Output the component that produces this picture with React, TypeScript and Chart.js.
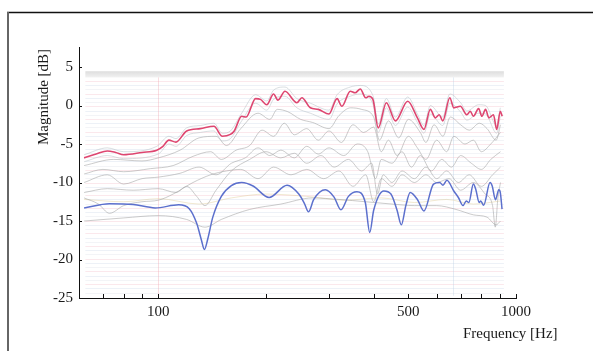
import React, { useEffect, useRef } from "react";
import { Chart, registerables } from "chart.js";

Chart.register(...registerables);

// ---------- axis definitions ----------
const xTickValues = [60, 70, 80, 90, 100, 200, 300, 400, 500, 600, 700, 800, 900, 1000];
const xTickLabels = ["100", "500", "1000"];
const yTickValues = [-25, -20, -15, -10, -5, 0, 5];

// ---------- series: [frequency Hz, magnitude dB] ----------
const redCurve: [number, number][] = [
  [62, -6.8], [67, -6.3], [72, -5.9], [76, -6.1], [80, -6.4], [90, -6.1], [99, -5.8], [103, -5.3],
  [107, -4.5], [112, -4.75], [120, -3.3], [131, -3.0], [143, -2.7], [151, -4.0], [159, -3.75],
  [163, -3.3], [171, -1.4], [176, -1.5], [187, 0.9], [193, 0.8], [201, 0.1], [210, 1.5], [216, 0.7],
  [226, 1.85], [244, 0.35], [252, 1.0], [266, -0.3], [280, -0.5], [300, -1.1], [316, 0.9],
  [326, -0.1], [344, 1.85], [355, 1.65], [367, 2.15], [380, 1.0], [388, 1.2], [398, 0.8],
  [412, -2.9], [434, 0.35], [460, -2.0], [498, 0.55], [530, -1.6], [553, -3.1], [576, -0.5],
  [595, -1.6], [610, -1.2], [624, -2.0], [653, 1.0], [670, -0.3], [699, -0.1], [729, -1.2],
  [745, -0.75], [760, -1.4], [786, -0.4], [803, -1.4], [822, -0.5], [840, -1.6], [865, -1.2],
  [883, -3.1], [904, -0.75], [915, -1.4],
];

const blueCurve: [number, number][] = [
  [62, -13.3], [73, -12.75], [85, -12.85], [98, -13.3], [114, -12.9], [122, -13.4], [128, -15.3],
  [132, -17.5], [134.5, -18.7], [137.5, -17.3], [142, -14.5], [150, -11.8], [160, -10.4],
  [171, -10.0], [184, -10.45], [204, -11.95], [229, -10.35], [247, -11.5], [256, -12.7],
  [263, -13.8], [272, -12.2], [293, -10.95], [310, -11.9], [324, -13.55], [340, -11.8],
  [359, -11.2], [379, -12.6], [390, -16.5], [400, -13.6], [427, -11.1], [447, -11.5],
  [465, -13.6], [478, -15.5], [492, -13.0], [506, -11.3], [530, -12.2], [553, -13.7],
  [588, -10.2], [612, -10.0], [625, -10.35], [641, -9.7], [670, -11.1], [690, -11.95],
  [711, -13.0], [726, -12.4], [738, -12.6], [760, -10.2], [772, -10.9], [789, -12.6],
  [797, -12.4], [812, -12.95], [846, -10.0], [858, -10.45], [876, -12.25], [895, -10.95],
  [904, -11.3], [914, -13.45],
];

const haloUpper: [number, number][] = [
  [62, -6.4], [72, -5.5], [80, -6.0], [99, -5.3], [107, -4.0], [112, -4.3], [120, -2.9],
  [131, -2.6], [143, -2.3], [151, -3.6], [159, -3.3], [171, -1.0], [187, 1.4], [201, 0.6],
  [210, 2.0], [226, 2.4], [244, 0.9], [266, 0.3], [300, -0.6], [316, 1.4], [344, 2.4],
  [367, 2.6], [398, 1.3], [412, -2.4], [434, 0.9], [460, -1.5], [498, 1.1], [530, -1.1],
  [553, -2.6], [576, 0.0], [624, -1.5], [653, 1.5], [699, 0.4], [729, -0.7], [786, 0.1],
  [822, 0.0], [883, -2.6], [904, -0.3],
];

const haloLower: [number, number][] = [
  [62, -7.3], [72, -6.5], [80, -6.9], [100, -6.3], [107, -5.0], [112, -5.3], [120, -3.9],
  [131, -3.5], [143, -3.3], [151, -4.6], [159, -4.3], [171, -2.0], [187, 0.3], [201, -0.6],
  [210, 0.8], [226, 1.2], [244, -0.3], [266, -1.0], [300, -1.8], [316, 0.2], [344, 1.2],
  [367, 1.5], [398, 0.2], [412, -3.5], [434, -0.3], [460, -2.6], [498, -0.2], [530, -2.2],
  [553, -3.6], [576, -1.1], [624, -2.6], [653, 0.3], [699, -0.8], [729, -1.9], [786, -1.0],
  [822, -1.1], [883, -3.6], [904, -1.4],
];

const grayA: [number, number][] = [
  [62, -7.8], [75, -7.0], [90, -7.2], [100, -6.8], [115, -5.8], [130, -4.2], [145, -4.0],
  [155, -5.2], [170, -3.0], [190, -1.0], [205, -1.8], [215, -0.5], [230, -0.8], [250, -1.8],
  [270, -2.2], [300, -3.0], [320, -1.3], [345, -0.3], [370, -0.5], [400, -1.5], [415, -4.5],
  [440, -2.0], [470, -4.2], [500, -1.8], [540, -3.5], [560, -4.8], [590, -2.5], [625, -4.0],
  [655, -1.5], [700, -2.5], [740, -3.2], [790, -2.3], [830, -3.0], [880, -4.5], [905, -2.5],
];

const grayB: [number, number][] = [
  [62, -8.9], [70, -8.3], [80, -8.6], [95, -8.2], [110, -7.8], [125, -6.6], [140, -6.0],
  [150, -7.0], [165, -5.8], [180, -5.2], [195, -3.2], [210, -4.0], [225, -2.3], [240, -3.8],
  [260, -3.0], [280, -4.5], [300, -3.3], [325, -4.8], [350, -2.5], [375, -3.5], [400, -2.8],
  [420, -6.0], [440, -4.5], [465, -6.5], [500, -4.0], [530, -5.5], [560, -7.0], [600, -4.5],
  [640, -6.0], [670, -4.0], [720, -5.0], [760, -4.5], [800, -6.0], [850, -5.0], [905, -3.5],
];

const grayC: [number, number][] = [
  [62, -10.0], [72, -9.0], [80, -10.2], [90, -9.5], [100, -9.3], [115, -8.8], [130, -8.0],
  [145, -9.0], [160, -7.5], [175, -6.8], [190, -5.5], [205, -6.5], [220, -5.8], [240, -6.8],
  [260, -5.3], [280, -6.3], [300, -5.5], [330, -6.5], [360, -5.0], [385, -6.0], [405, -9.5],
  [420, -7.0], [450, -7.5], [480, -6.0], [510, -8.0], [540, -6.5], [580, -8.5], [620, -7.0],
  [660, -8.0], [700, -6.5], [750, -7.5], [800, -8.3], [850, -7.0], [905, -6.0],
];

const grayD: [number, number][] = [
  [62, -11.3], [72, -10.8], [85, -11.0], [100, -10.8], [112, -11.3], [120, -10.5], [128, -11.8],
  [135, -13.0], [145, -11.0], [160, -8.5], [180, -7.0], [200, -6.0], [220, -6.8], [240, -6.2],
  [260, -7.5], [285, -6.5], [310, -8.0], [340, -7.0], [370, -8.5], [395, -7.5], [410, -11.5],
  [425, -9.0], [450, -10.0], [480, -8.5], [520, -9.5], [560, -8.0], [600, -9.5], [640, -8.5],
  [690, -10.0], [740, -9.0], [800, -10.5], [860, -9.0], [905, -8.0],
];

const grayE: [number, number][] = [
  [62, -12.0], [68, -12.8], [73, -14.0], [80, -13.0], [90, -12.5], [100, -12.3], [110, -11.5],
  [125, -10.0], [140, -9.0], [155, -8.5], [170, -8.3], [190, -9.5], [210, -8.0], [235, -9.0],
  [260, -8.3], [290, -9.5], [320, -8.5], [350, -10.5], [380, -9.0], [400, -12.5], [420, -9.5],
  [450, -10.5], [480, -9.0], [520, -10.0], [560, -9.0], [600, -10.0], [650, -9.5], [700, -11.0],
  [760, -10.0], [820, -11.5], [860, -13.0], [875, -15.8], [890, -12.0], [905, -10.0],
];

const grayF: [number, number][] = [
  [62, -15.0], [80, -14.6], [100, -14.3], [120, -14.8], [135, -15.8], [150, -14.8], [180, -13.5],
  [220, -12.8], [270, -12.0], [320, -12.2], [380, -12.5], [450, -12.8], [520, -13.0],
  [600, -13.0], [680, -13.5], [760, -14.2], [830, -14.5], [880, -15.5], [905, -15.0],
];

const yellowG: [number, number][] = [
  [62, -12.2], [80, -12.5], [100, -12.1], [130, -12.8], [160, -12.0], [200, -11.5], [260, -11.8],
  [330, -12.3], [420, -12.0], [520, -12.6], [640, -12.2], [760, -12.8], [905, -12.4],
];

const grayCurves = [grayA, grayB, grayC, grayD, grayE, grayF];

const FONT = "'Liberation Serif', 'Times New Roman', serif";

const toPoints = (arr: [number, number][]) => arr.map(([x, y]) => ({ x, y }));

const decor = {
  id: "decor",
  beforeDraw(chart: any) {
    const ctx = chart.ctx;
    ctx.save();
    ctx.fillStyle = "#ffffff";
    ctx.fillRect(0, 0, chart.width, chart.height);
    ctx.restore();
  },
  beforeDatasetsDraw(chart: any) {
    const { ctx, scales } = chart;
    const x = scales.x;
    const y = scales.y;
    const x0 = x.getPixelForValue(62.5);
    const x1 = x.getPixelForValue(925);
    ctx.save();
    // faint background lines
    const colors = ["rgba(240,160,175,0.24)", "rgba(190,205,225,0.28)", "rgba(205,210,220,0.24)"];
    let i = 0;
    for (let v = 3.2; v >= -24.6; v -= 0.55) {
      const py = Math.round(y.getPixelForValue(v)) + 0.5;
      ctx.strokeStyle = colors[i % 3];
      ctx.lineWidth = 1;
      ctx.beginPath();
      ctx.moveTo(x0, py);
      ctx.lineTo(x1, py);
      ctx.stroke();
      i++;
    }
    // top grey band
    const bTop = y.getPixelForValue(4.45);
    const bBot = y.getPixelForValue(3.65);
    const g = ctx.createLinearGradient(0, bTop, 0, bBot);
    g.addColorStop(0, "rgba(215,215,215,0.85)");
    g.addColorStop(1, "rgba(238,238,238,0.8)");
    ctx.fillStyle = g;
    ctx.fillRect(x0, bTop, x1 - x0, bBot - bTop);
    // faint vertical lines
    const vx1 = Math.round(x.getPixelForValue(100)) + 0.5;
    ctx.strokeStyle = "rgba(240,170,180,0.4)";
    ctx.beginPath();
    ctx.moveTo(vx1, bBot);
    ctx.lineTo(vx1, y.getPixelForValue(-24.7));
    ctx.stroke();
    const vx2 = Math.round(x.getPixelForValue(667)) + 0.5;
    ctx.strokeStyle = "rgba(190,210,230,0.4)";
    ctx.beginPath();
    ctx.moveTo(vx2, bBot);
    ctx.lineTo(vx2, y.getPixelForValue(-24.7));
    ctx.stroke();
    ctx.restore();
  },
  afterDraw(chart: any) {
    const { ctx, scales } = chart;
    const x = scales.x;
    const y = scales.y;
    const area = chart.chartArea;
    ctx.save();
    ctx.strokeStyle = "#111";
    ctx.lineWidth = 1;
    // inward ticks on x axis
    for (const v of xTickValues) {
      const px = Math.round(x.getPixelForValue(v)) + 0.5;
      ctx.beginPath();
      ctx.moveTo(px, area.bottom);
      ctx.lineTo(px, area.bottom - 4);
      ctx.stroke();
    }
    // inward ticks on y axis
    for (const v of yTickValues) {
      const py = Math.round(y.getPixelForValue(v)) + 0.5;
      ctx.beginPath();
      ctx.moveTo(area.left, py);
      ctx.lineTo(area.left + 3, py);
      ctx.stroke();
    }
    // figure frame
    ctx.strokeStyle = "#111";
    ctx.lineWidth = 1.5;
    ctx.beginPath();
    ctx.moveTo(7, 12.5);
    ctx.lineTo(593, 12.5);
    ctx.stroke();
    ctx.strokeStyle = "#666";
    ctx.lineWidth = 2;
    ctx.beginPath();
    ctx.moveTo(8, 12);
    ctx.lineTo(8, 351);
    ctx.stroke();
    // titles
    ctx.fillStyle = "#1a1a1a";
    ctx.font = `15px ${FONT}`;
    ctx.textAlign = "left";
    ctx.textBaseline = "middle";
    ctx.fillText("Frequency [Hz]", 463, 334);
    ctx.translate(44, 97);
    ctx.rotate(-Math.PI / 2);
    ctx.textAlign = "center";
    ctx.fillText("Magnitude [dB]", 0, 0);
    ctx.restore();
  },
};

export default function App() {
  const ref = useRef<HTMLCanvasElement | null>(null);
  useEffect(() => {
    if (!ref.current) return;
    const line = (arr: [number, number][], color: string, width: number, order: number) => ({
      data: toPoints(arr),
      borderColor: color,
      borderWidth: width,
      pointRadius: 0,
      fill: false,
      cubicInterpolationMode: "monotone" as const,
      order,
    });
    const datasets: any[] = [
      line(redCurve, "rgb(222,70,112)", 1.6, 0),
      line(blueCurve, "rgb(92,112,205)", 1.5, 1),
      line(haloUpper, "rgba(185,195,200,0.55)", 1, 2),
      line(haloLower, "rgba(185,195,200,0.55)", 1, 2),
      ...grayCurves.map((c) => line(c, "rgba(160,160,160,0.55)", 1, 3)),
      line(yellowG, "rgba(225,205,150,0.45)", 1, 4),
    ];
    const chart = new Chart(ref.current, {
      type: "line",
      data: { datasets },
      options: {
        animation: false,
        responsive: false,
        devicePixelRatio: 1,
        parsing: false as any,
        normalized: true,
        layout: { padding: { left: 0, top: 47, right: 77, bottom: 0 } },
        plugins: { legend: { display: false }, tooltip: { enabled: false } },
        scales: {
          x: {
            type: "logarithmic",
            min: 60,
            max: 1000,
            afterBuildTicks: (s: any) => {
              s.ticks = xTickValues.map((v) => ({ value: v }));
            },
            afterFit: (s: any) => {
              s.height = 53;
            },
            grid: { display: false, drawTicks: false },
            border: { display: true, color: "#111", width: 1 },
            ticks: {
              autoSkip: false,
              maxRotation: 0,
              padding: 5,
              color: "#1a1a1a",
              font: { family: FONT, size: 15 },
              callback: (v: any) => (xTickLabels.includes(String(v)) ? String(v) : ""),
            },
          },
          y: {
            type: "linear",
            min: -25,
            max: 7.6,
            afterBuildTicks: (s: any) => {
              s.ticks = yTickValues.map((v) => ({ value: v }));
            },
            afterFit: (s: any) => {
              s.width = 79;
            },
            grid: { display: false, drawTicks: false },
            border: { display: true, color: "#111", width: 1 },
            ticks: {
              padding: 6,
              color: "#1a1a1a",
              font: { family: FONT, size: 15 },
              callback: (v: any) => String(v),
            },
          },
        },
      },
      plugins: [decor],
    });
    return () => chart.destroy();
  }, []);
  return (
    <div style={{ position: "fixed", left: 0, top: 0, width: 593, height: 351, background: "#fff" }}>
      <canvas ref={ref} width={593} height={351} style={{ width: 593, height: 351, display: "block" }} />
    </div>
  );
}
